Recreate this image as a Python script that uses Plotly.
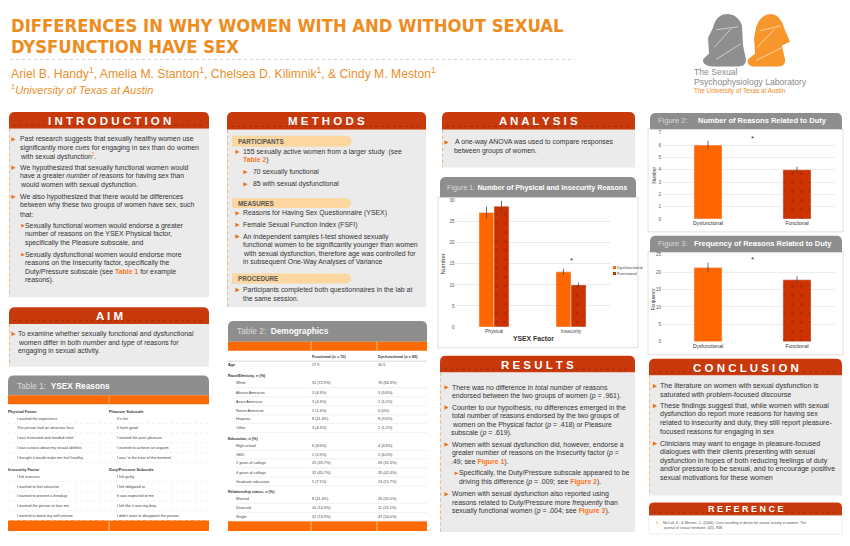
import plotly.graph_objects as go

W, H = 850, 546

# ---------------- data ----------------
fig1_categories = ["Physical", "Insecurity"]
fig1_dysfunctional = [27.2, 13.1]
fig1_dysfunctional_err = [1.4, 0.7]
fig1_functional = [28.7, 10.0]
fig1_functional_err = [1.5, 0.6]
fig1_star_y = 15.9

fig2_groups = ["Dysfunctional", "Functional"]
fig2_number = [6.0, 4.0]
fig2_err = [0.35, 0.25]
fig2_star_y = 6.5

fig3_groups = ["Dysfunctional", "Functional"]
fig3_frequency = [21.3, 17.8]
fig3_err = [1.4, 1.0]
fig3_star_y = 23.5

table1_physical = ["I wanted the experience", "The person had an attractive face",
                   "I was frustrated and needed relief", "I was curious about my sexual abilities",
                   "I thought it would make me feel healthy"]
table1_pleasure = ["It's fun", "It feels good", "I wanted the pure pleasure",
                   "I wanted to achieve an orgasm", "I was \u2018in the heat of the moment\u2019"]
table1_insecurity = ["I felt insecure", "I wanted to feel attractive", "I wanted to prevent a breakup",
                     "I wanted the person to love me", "I wanted to boost my self-esteem"]
table1_duty = ["I felt guilty", "I felt obligated to", "It was expected of me",
               "I felt like it was my duty", "I didn't want to disappoint the person"]

demo_labels = ["Age", "Race/Ethnicity, <i>n</i> (%)", "White", "African American", "Asian American",
               "Native American", "Hispanic", "Other", "Education, <i>n</i> (%)", "High school", "GED",
               "2 years of college", "4 years of college", "Graduate education",
               "Relationship status, <i>n</i> (%)", "Married", "Divorced", "Single"]
demo_header = [True, True, False, False, False, False, False, False, True, False, False,
               False, False, False, True, False, False, False]
demo_functional = ["27.9", "", "51 (72.9%)", "3 (4.3%)", "3 (4.3%)", "1 (1.4%)", "8 (11.4%)", "3 (4.3%)",
                   "", "6 (8.6%)", "2 (2.9%)", "25 (35.7%)", "32 (45.7%)", "5 (7.1%)",
                   "", "8 (11.4%)", "10 (14.3%)", "52 (74.3%)"]
demo_dysfunctional = ["30.5", "", "70 (84.3%)", "3 (3.6%)", "1 (1.2%)", "0 (0%)", "8 (9.6%)", "1 (1.2%)",
                      "", "4 (4.8%)", "5 (6.0%)", "26 (31.3%)", "35 (42.4%)", "13 (15.7%)",
                      "", "26 (31.0%)", "11 (13.1%)", "47 (56.0%)"]

# ---------------- style ----------------
DYS = "#FF6600"
FUNC = "#CC3300"
RED = "#C8390B"
GRAYHEAD = "#8E8E8E"
BODY = "#EBEBEB"
BAND = "#FF6A00"
TXT = "#333333"
LINK = "#FF7417"
BUL = "#E8721C"
FONT = "Liberation Sans, Arial, Helvetica, sans-serif"
NARROW = "Liberation Sans Narrow, DejaVu Sans Condensed, Arial Narrow, sans-serif"

shapes = []
anns = []


def X(px):
    return px / W


def Y(py):
    return 1 - py / H


def rect(x0, y0, x1, y1, fill, line=None, lw=0):
    shapes.append(dict(type="rect", xref="paper", yref="paper", x0=X(x0), x1=X(x1), y0=Y(y1), y1=Y(y0),
                       fillcolor=fill, line=dict(width=lw, color=line or fill), layer="below"))


def seg(x0, y0, x1, y1, color, w=1, dash=None, layer="below"):
    d = dict(width=w, color=color)
    if dash:
        d["dash"] = dash
    shapes.append(dict(type="line", xref="paper", yref="paper", x0=X(x0), x1=X(x1), y0=Y(y0), y1=Y(y1),
                       line=d, layer=layer))


def path(cmds, fill, line=None, lw=0, layer="below"):
    out = []
    for c in cmds:
        if c[0] == "Z":
            out.append("Z")
        elif c[0] == "Q":
            out.append(f"Q {X(c[1])},{Y(c[2])} {X(c[3])},{Y(c[4])}")
        else:
            out.append(f"{c[0]} {X(c[1])},{Y(c[2])}")
    shapes.append(dict(type="path", xref="paper", yref="paper", path=" ".join(out), fillcolor=fill,
                       line=dict(width=lw, color=line or fill), layer=layer))


def round_top(x0, y0, x1, y1, fill, r=6):
    path([("M", x0, y1), ("L", x0, y0 + r), ("Q", x0, y0, x0 + r, y0), ("L", x1 - r, y0),
          ("Q", x1, y0, x1, y0 + r), ("L", x1, y1), ("Z",)], fill)


def T(x, y, s, size=6.9, color=TXT, anchor="left", family=FONT, bold=False, angle=0):
    if not s:
        return
    if bold:
        s = f"<b>{s}</b>"
    anns.append(dict(xref="paper", yref="paper", x=X(x), y=Y(y), text=s, showarrow=False, xanchor=anchor,
                     yanchor="middle", textangle=angle, borderpad=0, borderwidth=0,
                     font=dict(size=size, color=color, family=family)))


def tri(x, y, s=2.1):
    path([("M", x - s, y - s * 1.05), ("L", x + s, y), ("L", x - s, y + s * 1.05), ("Z",)], BUL)


def link(s):
    return f"<b><span style='color:{LINK}'>{s}</span></b>"


x1_of = {"INTRODUCTION": 209, "AIM": 209, "METHODS": 426, "ANALYSIS": 635, "RESULTS": 635,
         "CONCLUSION": 842, "REFERENCE": 842}


def red_panel(x0, y0, hy, y1, title):
    x1 = x1_of[title]
    round_top(x0, y0, x1, hy, RED)
    rect(x0, hy, x1, y1, BODY)
    seg(x0 + 4, hy - 3.5, x1 - 4, hy - 3.5, "rgba(90,20,0,0.45)", 0.7, "dot")
    seg(x0 + 0.6, hy, x0 + 0.6, y1, "#F2A25E", 0.8, "dot")
    T((x0 + x1) / 2, (y0 + hy) / 2 + 0.5, " ".join(title), size=11.5, color="white", anchor="center",
      bold=True)


# ---------------- header ----------------
T(11, 24, "DIFFERENCES IN WHY WOMEN WITH AND WITHOUT SEXUAL", size=18.3, color="#EE8C1E", family=NARROW,
  bold=True)
T(11, 45, "DYSFUNCTION HAVE SEX", size=18.3, color="#EE8C1E", family=NARROW, bold=True)
seg(10, 58, 575, 58, "#C8C8C8", 0.8, "dot")
T(11, 72, "Ariel B. Handy<sup>1</sup>, Amelia M. Stanton<sup>1</sup>, Chelsea D. Kilimnik<sup>1</sup>, "
          "& Cindy M. Meston<sup>1</sup>", size=12.2, color="#E8902C")
T(11, 88, "<sup>1</sup><i>University of Texas at Austin</i>", size=11, color="#E8902C")

# logo (two seated figures)
path([("M", 713, 26), ("Q", 716, 12, 728, 12), ("Q", 739, 13, 742, 24), ("L", 743, 44), ("L", 746, 58),
      ("Q", 746, 65, 738, 65), ("L", 712, 65), ("Q", 702, 64, 703, 58), ("L", 709, 52), ("L", 708, 36),
      ("Z",)], "#8F8F8F")
path([("M", 756, 26), ("Q", 760, 12, 772, 12), ("Q", 781, 14, 784, 26), ("L", 790, 40), ("L", 782, 44),
      ("L", 785, 58), ("Q", 786, 65, 778, 65), ("L", 753, 65), ("Q", 746, 64, 748, 58), ("L", 755, 52),
      ("L", 754, 36), ("Z",)], "#F7962B")
for (a, b, c, d) in [(714, 46, 731, 27), (716, 58, 741, 42), (716, 28, 738, 25), (757, 46, 775, 27),
                     (756, 59, 782, 46), (760, 29, 781, 24)]:
    seg(a, b, c, d, "rgba(255,255,255,0.8)", 0.7)
T(694, 71, "The Sexual", size=8.6, color="#8A8A8A")
T(694, 80.5, "Psychophysiology Laboratory", size=8.6, color="#8A8A8A")
T(694, 90, "The University of Texas at Austin", size=6.3, color="#F08A1C")

# ---------------- INTRODUCTION ----------------
red_panel(9, 111, 128, 298, "INTRODUCTION")
intro = [
    (0, 138.7, "Past research suggests that sexually healthy women use"),
    (0, 147.3, "significantly more <i>cues</i> for engaging in sex than do women"),
    (0, 156.0, f"with sexual dysfunction<sup><span style='color:{LINK}'>1</span></sup>."),
    (0, 167.3, "We hypothesized that sexually functional women would"),
    (0, 176.0, "have a greater <i>number of reasons</i> for having sex than"),
    (0, 184.7, "would women with sexual dysfunction."),
    (0, 196.7, "We also hypothesized that there would be differences"),
    (0, 205.3, "between why these two groups of women have sex, such"),
    (0, 214.0, "that:"),
    (1, 225.7, "Sexually functional women would endorse a greater"),
    (1, 234.3, "number of reasons on the YSEX Physical factor,"),
    (1, 243.0, "specifically the Pleasure subscale, and"),
    (1, 255.0, "Sexually dysfunctional women would endorse more"),
    (1, 263.7, "reasons on the Insecurity factor, specifically the"),
    (1, 272.3, f"Duty/Pressure subscale (see {link('Table 1')} for example"),
    (1, 281.0, "reasons)."),
]
for lvl, y, s in intro:
    T(19.5 if lvl == 0 else 25, y, s)
for y in (138.7, 167.3, 196.7):
    tri(13.5, y)
for y in (225.7, 255.0):
    tri(23, y, 1.8)

# ---------------- AIM ----------------
red_panel(9, 308, 325, 368, "AIM")
tri(13.5, 335)
T(17.5, 335, "To examine whether sexually functional and dysfunctional")
T(17.5, 343.7, "women differ in both <i>number</i> and <i>type</i> of reasons for")
T(17.5, 352.3, "engaging in sexual activity.")

# ---------------- TABLE 1 ----------------
round_top(8, 377, 209, 397, GRAYHEAD)
rect(8, 397, 209, 406, BAND)
rect(8, 523, 209, 534, BAND)
seg(109, 397, 109, 410, "#CFCFCF", 0.6)
seg(109, 523, 109, 534, "white", 0.6)
T(17, 387.5, "<span style='color:#D9D9D9'>Table 1:</span>  <b>YSEX Reasons</b>", size=8.3, color="white")
T(8, 413.3, "Physical Factor", size=3.9, bold=True)
T(109, 413.3, "Pleasure Subscale", size=3.9, bold=True)
T(8, 472.3, "Insecurity Factor", size=3.9, bold=True)
T(109, 472.3, "Duty/Pressure Subscale", size=3.9, bold=True)
ys1 = [420.7, 430.3, 440.3, 450.3, 460.0]
ys2 = [479.3, 489.3, 499.0, 508.7, 518.7]
for i in range(5):
    T(17, ys1[i], table1_physical[i], size=3.8, color="#444")
    T(117, ys1[i], table1_pleasure[i], size=3.8, color="#444")
    T(17, ys2[i], table1_insecurity[i], size=3.8, color="#444")
    T(117, ys2[i], table1_duty[i], size=3.8, color="#444")
    seg(8, ys1[i] + 4.6, 209, ys1[i] + 4.6, "#E4E4E4", 0.5, "dot")
    seg(8, ys2[i] + 4.6, 209, ys2[i] + 4.6, "#E4E4E4", 0.5, "dot")

# ---------------- METHODS ----------------
red_panel(227, 111, 129, 308, "METHODS")


def pill(y0, y1, label):
    r = (y1 - y0) / 2
    path([("M", 232, y0), ("L", 345, y0), ("Q", 345 + r * 1.2, y0, 345 + r * 1.2, y0 + r),
          ("Q", 345 + r * 1.2, y1, 345, y1), ("L", 232, y1), ("Z",)], "#FDD7A0")
    T(237.5, (y0 + y1) / 2 + 0.3, label, size=6.3, color="#555", bold=True)


pill(135, 146, "PARTICIPANTS")
pill(198, 208, "MEASURES")
pill(274, 284, "PROCEDURE")
meth = [
    (0, 151.3, "155 sexually active women from a larger study  (see"),
    (-1, 159.3, f"{link('Table 2')})"),
    (1, 171.7, "70 sexually functional"),
    (1, 184.0, "85 with sexual dysfunctional"),
    (0, 213.3, "Reasons for Having Sex Questionnaire (YSEX)"),
    (0, 225.0, "Female Sexual Function Index (FSFI)"),
    (0, 236.7, "An independent samples t-test showed sexually"),
    (-1, 245.3, "functional women to be significantly younger than women"),
    (-1, 254.0, "with sexual dysfunction, therefore age was controlled for"),
    (-1, 262.7, "in subsequent One-Way Analyses of Variance"),
    (0, 290.7, "Participants completed both questionnaires in the lab at"),
    (-1, 299.3, "the same session."),
]
for lvl, y, s in meth:
    if lvl == 1:
        tri(245.5, y)
        T(252.5, y, s)
    else:
        if lvl == 0:
            tri(237.5, y)
        T(242.5, y, s)

# ---------------- TABLE 2 ----------------
round_top(228, 322, 427, 343, GRAYHEAD)
rect(228, 343, 427, 352, BAND)
rect(228, 524, 427, 534, BAND)
for xx in (311, 377):
    seg(xx, 343, xx, 352, "white", 0.6)
    seg(xx, 524, xx, 534, "white", 0.6)
T(237, 332.5, "<span style='color:#D9D9D9'>Table 2:</span>  <b>Demographics</b>", size=8.3, color="white")
T(312, 358, "Functional (<i>n</i> = 70)", size=3.8, bold=True)
T(378, 358, "Dysfunctional (<i>n</i> = 85)", size=3.8, bold=True)
seg(228, 362.5, 427, 362.5, "#BDBDBD", 0.6)
demo_y = [366.7, 377.3, 385.0, 394.3, 403.3, 412.3, 421.0, 430.0, 441.0, 448.3, 456.7, 465.7, 475.0, 484.0,
          495.0, 501.7, 510.7, 519.3]
for i, lab in enumerate(demo_labels):
    y = demo_y[i]
    if demo_header[i]:
        T(228.5, y, lab, size=3.8, bold=True)
    else:
        T(236, y, lab, size=3.8, color="#444")
    T(312, y, demo_functional[i], size=3.8, color="#444")
    T(378, y, demo_dysfunctional[i], size=3.8, color="#444")
    if not demo_header[i]:
        seg(236, y + 4.3, 427, y + 4.3, "#E2E2E2", 0.5)

# ---------------- ANALYSIS ----------------
red_panel(442, 111, 129, 167, "ANALYSIS")
tri(446.5, 141.7)
T(454.5, 141.7, "A one-way ANOVA was used to compare responses")
T(454.5, 150.5, "between groups of women.")

# ---------------- FIGURE 1 box ----------------
rect(438, 197, 638, 349, "white", "#D6D6D6", 0.8)
round_top(440, 176.5, 636, 197, GRAYHEAD)
T(447, 187, "<span style='color:#D9D9D9'>Figure 1:</span> <b>Number of Physical and Insecurity Reasons</b>",
  size=7.2, color="white")

# ---------------- RESULTS ----------------
red_panel(440, 357, 374, 535, "RESULTS")
res = [
    (0, 389.0, "There was no difference in <i>total number</i> of reasons"),
    (-1, 397.7, "endorsed between the two groups of women (<i>p</i> = .961)."),
    (0, 409.3, "Counter to our hypothesis, no differences emerged in the"),
    (-1, 418.0, "total number of reasons endorsed by the two groups of"),
    (-1, 426.7, "women on the Physical factor (<i>p</i> = .418) or Pleasure"),
    (-1, 435.3, "subscale (<i>p</i> = .619)."),
    (0, 446.7, "Women with sexual dysfunction did, however, endorse a"),
    (-1, 455.3, "greater number of reasons on the Insecurity factor (<i>p</i> ="),
    (-1, 464.0, f".49; see {link('Figure 1')})."),
    (1, 475.7, "Specifically, the Duty/Pressure subscale appeared to be"),
    (1, 484.3, f"driving this difference (<i>p</i> = .009; see {link('Figure 2')})."),
    (0, 496.7, "Women with sexual dysfunction also reported using"),
    (-1, 505.3, "reasons related to Duty/Pressure more <i>frequently</i> than"),
    (-1, 514.0, f"sexually functional women (<i>p</i> = .004; see {link('Figure 3')})."),
]
for lvl, y, s in res:
    if lvl == 1:
        if "Specifically" in s:
            tri(456.5, y, 1.8)
        T(458.5, y, s)
    else:
        if lvl == 0:
            tri(446.5, y)
        T(451.5, y, s)

# ---------------- FIGURE 2 / 3 boxes ----------------
rect(648, 128, 843, 232, "white", "#D6D6D6", 0.8)
round_top(650, 112, 842, 128.5, GRAYHEAD)
T(657.5, 119.5, "<span style='color:#D9D9D9'>Figure 2:</span>", size=7.5, color="white")
T(698, 119.5, "<b>Number of Reasons Related to Duty</b>", size=7.5, color="white")
rect(648, 252, 843, 356, "white", "#D6D6D6", 0.8)
round_top(650, 236, 842, 252.5, GRAYHEAD)
T(657.5, 244, "<span style='color:#D9D9D9'>Figure 3:</span>", size=7.5, color="white")
T(694, 244, "<b>Frequency of Reasons Related to Duty</b>", size=7.5, color="white")

# ---------------- CONCLUSION ----------------
red_panel(649, 360, 377, 498, "CONCLUSION")
con = [
    (0, 387.7, "The literature on women with sexual dysfunction is"),
    (-1, 396.3, "saturated with problem-focused discourse"),
    (0, 407.7, "These findings suggest that, while women with sexual"),
    (-1, 416.3, "dysfunction do report more reasons for having sex"),
    (-1, 425.0, "related to insecurity and duty, they still report pleasure-"),
    (-1, 433.7, "focused reasons for engaging in sex"),
    (0, 445.7, "Clinicians may want to engage in pleasure-focused"),
    (-1, 454.3, "dialogues with their clients presenting with sexual"),
    (-1, 463.0, "dysfunction in hopes of both reducing feelings of duty"),
    (-1, 471.7, "and/or pressure to be sexual, and to encourage positive"),
    (-1, 480.3, "sexual motivations for these women"),
]
for lvl, y, s in con:
    if lvl == 0:
        tri(655, y)
    T(660, y, s, size=7.1)

# ---------------- REFERENCE ----------------
round_top(649, 505, 842, 518.5, RED, r=5)
seg(653, 515, 838, 515, "rgba(90,20,0,0.45)", 0.7, "dot")
T(745.5, 512, "R E F E R E N C E", size=9, color="white", anchor="center", bold=True)
rect(649, 518.5, 842, 537, "white", "#E0E0E0", 0.6)
T(655.5, 525.7, "1.", size=3.8, color=LINK)
T(663, 525.7, "McCall, K., & Meston, C. (2006). Cues resulting in desire for sexual activity in women. "
              "<i>The</i>", size=3.6, color="#555")
T(663, 530.7, "<i>journal of sexual medicine, 3</i>(5), 838.", size=3.6, color="#555")

# ---------------- charts ----------------
fig = go.Figure()
err_style = dict(type="data", color="#4A4A4A", thickness=0.8, width=0)
pat = dict(shape=".", fgcolor="#7A1E00", bgcolor=FUNC, size=9, solidity=0.06)

fig.add_trace(go.Bar(x=fig1_categories, y=fig1_dysfunctional, name="Dysfunctional", marker=dict(color=DYS),
                     error_y=dict(array=fig1_dysfunctional_err, **err_style), xaxis="x", yaxis="y"))
fig.add_trace(go.Bar(x=fig1_categories, y=fig1_functional, name="Functional",
                     marker=dict(color=FUNC, pattern=pat),
                     error_y=dict(array=fig1_functional_err, **err_style), xaxis="x", yaxis="y"))

for ax, groups, vals, errs in (("2", fig2_groups, fig2_number, fig2_err),
                               ("3", fig3_groups, fig3_frequency, fig3_err)):
    for i in range(2):
        mk = dict(color=DYS) if i == 0 else dict(color=FUNC, pattern=pat)
        fig.add_trace(go.Bar(x=[groups[i]], y=[vals[i]], width=0.315, offset=-0.1575, marker=mk,
                             error_y=dict(array=[errs[i]], **err_style), xaxis="x" + ax, yaxis="y" + ax))

tickf = dict(size=4.6, color="#555", family=FONT)
ax_common = dict(showline=False, zeroline=False, ticks="", fixedrange=True)
fig.update_layout(
    xaxis=dict(domain=[X(455.5), X(609.5)], anchor="y", range=[-0.5, 1.5], tickfont=dict(size=4.8,
               color="#444", family=FONT), showgrid=False, **ax_common),
    yaxis=dict(domain=[Y(328), Y(200.5)], anchor="x", range=[0, 30], dtick=5, tickfont=tickf,
               gridcolor="#E9E9E9", gridwidth=0.6, **ax_common),
    xaxis2=dict(domain=[X(662), X(835)], anchor="y2", range=[-0.517, 1.427], tickfont=dict(size=5,
                color="#333", family=FONT), showgrid=False, categoryorder="array",
                categoryarray=fig2_groups, **ax_common),
    yaxis2=dict(domain=[Y(219), Y(132)], anchor="x2", range=[0, 7], dtick=1, tickfont=tickf,
                gridcolor="#EDEDED", gridwidth=0.6, **ax_common),
    xaxis3=dict(domain=[X(662), X(835)], anchor="y3", range=[-0.517, 1.427], tickfont=dict(size=5,
                color="#333", family=FONT), showgrid=False, categoryorder="array",
                categoryarray=fig3_groups, **ax_common),
    yaxis3=dict(domain=[Y(343), Y(255)], anchor="x3", range=[0, 25], dtick=5, tickfont=tickf,
                gridcolor="#EDEDED", gridwidth=0.6, **ax_common),
)

# chart annotations (asterisks, axis titles, legend)
anns.append(dict(xref="x", yref="y", x="Insecurity", y=fig1_star_y, text="*", showarrow=False,
                 font=dict(size=8, color="#333", family=FONT), yanchor="middle"))
anns.append(dict(xref="x2", yref="y2", x=0.5, y=fig2_star_y, text="*", showarrow=False,
                 font=dict(size=8, color="#333", family=FONT), yanchor="middle"))
anns.append(dict(xref="x3", yref="y3", x=0.5, y=fig3_star_y, text="*", showarrow=False,
                 font=dict(size=8, color="#333", family=FONT), yanchor="middle"))
T(443, 264, "Number", size=6, color="#333", anchor="center", angle=-90)
T(533, 339.5, "YSEX Factor", size=6.8, color="#333", anchor="center", bold=True)
T(654, 175, "Number", size=4.6, color="#333", anchor="center", angle=-90)
T(653, 300, "Frequency", size=4.6, color="#333", anchor="center", angle=-90)
rect(613, 266.5, 616, 269.5, DYS)
rect(613, 272.5, 616, 275.5, FUNC)
T(617, 268, "Dysfunctional", size=4.3, color="#444")
T(617, 274, "Functional", size=4.3, color="#444")

fig.update_layout(
    width=W, height=H, margin=dict(l=0, r=0, t=0, b=0), autosize=False,
    paper_bgcolor="white", plot_bgcolor="rgba(0,0,0,0)",
    barmode="group", bargap=0.61, bargroupgap=0.0, showlegend=False,
    shapes=shapes, annotations=anns, font=dict(family=FONT),
)

fig.write_html("out.html", config={"displayModeBar": False},
               post_script="document.body.style.margin='0';document.body.style.overflow='hidden';")
